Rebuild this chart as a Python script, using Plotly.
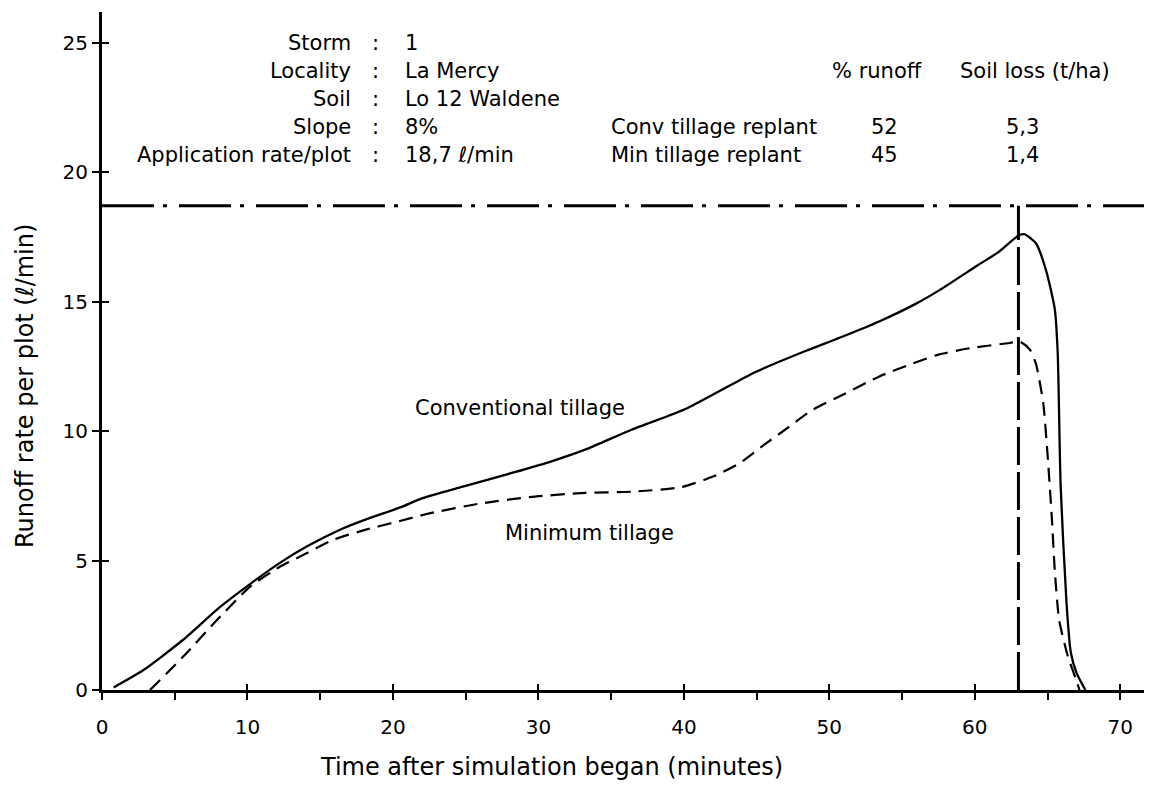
import plotly.graph_objects as go

# ---------------- data ----------------
time_conv = [0.8, 2.8, 5.6, 8.1, 10.2, 12.2, 14.1, 16.4, 18.2, 20.5, 22.0, 24.8, 28.3, 31.0,
             33.3, 36.4, 39.0, 40.3, 43.8, 45.0, 48.4, 50.7, 53.5, 55.9, 57.6, 60.2, 61.6,
             63.0, 63.4, 64.2, 64.9, 65.5, 65.7, 65.9, 66.3, 66.6, 67.0, 67.6]
rate_conv = [0.1, 0.75, 1.95, 3.2, 4.1, 4.9, 5.55, 6.2, 6.6, 7.05, 7.4, 7.85, 8.4, 8.85,
             9.3, 10.05, 10.6, 10.9, 11.95, 12.3, 13.1, 13.6, 14.25, 14.9, 15.45, 16.4, 16.9,
             17.55, 17.6, 17.25, 16.2, 14.7, 13.0, 7.9, 3.4, 1.45, 0.65, 0.0]

time_min = [3.3, 5.6, 7.9, 10.2, 12.2, 13.6, 15.9, 18.2, 20.3, 22.5, 26.0, 29.4, 32.9, 36.5,
            39.8, 42.0, 43.8, 45.6, 47.2, 48.8, 51.1, 53.4, 55.7, 57.5, 59.7, 62.4, 63.1,
            63.8, 64.2, 64.7, 65.0, 65.3, 65.5, 65.8, 66.4, 66.9, 67.2]
rate_min = [0.0, 1.3, 2.7, 4.0, 4.75, 5.15, 5.8, 6.2, 6.5, 6.82, 7.2, 7.45, 7.6, 7.66,
            7.83, 8.24, 8.75, 9.5, 10.15, 10.8, 11.45, 12.1, 12.6, 12.95, 13.2, 13.4, 13.45,
            13.13, 12.6, 11.1, 9.1, 6.6, 4.6, 2.7, 1.3, 0.5, 0.0]

application_rate = 18.7   # l/min
rain_end_time = 63        # minutes

x_tickvals = [0, 10, 20, 30, 40, 50, 60, 70]
y_tickvals = [0, 5, 10, 15, 20, 25]

info_labels = ["Storm", "Locality", "Soil", "Slope", "Application rate/plot"]
info_values = ["1", "La Mercy", "Lo 12 Waldene", "8%", "18,7 \u2113/min"]
treatments = ["Conv tillage replant", "Min tillage replant"]
pct_runoff = ["52", "45"]
soil_loss = ["5,3", "1,4"]

# ---------------- figure ----------------
FONT = "DejaVu Sans"
X_MAX = 71.7
Y_MAX = 26.18

fig = go.Figure()
fig.add_trace(go.Scatter(x=time_conv, y=rate_conv, mode="lines", name="Conventional tillage",
                         line=dict(color="black", width=2.3, shape="spline", smoothing=0.6),
                         showlegend=False))
fig.add_trace(go.Scatter(x=time_min, y=rate_min, mode="lines", name="Minimum tillage",
                         line=dict(color="black", width=2.2, dash="14px,8px", shape="spline", smoothing=0.6),
                         showlegend=False))
# dummy trace to activate overlay axes (crossing ticks)
fig.add_trace(go.Scatter(x=[None], y=[None], xaxis="x2", yaxis="y2", showlegend=False, hoverinfo="skip"))

# application-rate line and end-of-rain line
fig.add_shape(type="line", xref="paper", yref="y", x0=0, x1=1.0075,
              y0=application_rate, y1=application_rate,
              line=dict(color="black", width=3, dash="52px,9px,4px,12px"))
fig.add_shape(type="line", xref="x", yref="y", x0=rain_end_time, x1=rain_end_time,
              y0=0, y1=application_rate,
              line=dict(color="black", width=3, dash="38px,7px"))

tickfont = dict(family=FONT, size=20, color="black")
fig.update_layout(
    width=1144, height=785,
    margin=dict(l=94, r=7, t=4, b=103),
    paper_bgcolor="white", plot_bgcolor="white",
    font=dict(family=FONT, size=21, color="black"),
    xaxis=dict(range=[0, X_MAX], tickvals=x_tickvals, ticks="outside", ticklen=7, tickwidth=2,
               tickcolor="black", showline=True, linewidth=3, linecolor="black",
               showgrid=False, zeroline=False, tickfont=tickfont, ticklabelstandoff=10,
               automargin=False,
               minor=dict(dtick=5, tick0=0, ticks="outside", ticklen=7, tickwidth=2, tickcolor="black")),
    yaxis=dict(range=[0, Y_MAX], tickvals=y_tickvals, ticks="outside", ticklen=7, tickwidth=2,
               tickcolor="black", showline=True, linewidth=3, linecolor="black",
               showgrid=False, zeroline=False, tickfont=tickfont, automargin=False),
    xaxis2=dict(overlaying="x", anchor="y", range=[0, X_MAX], tickvals=x_tickvals[1:],
                ticks="inside", ticklen=6, tickwidth=2, tickcolor="black",
                showticklabels=False, showline=False, showgrid=False, zeroline=False),
    yaxis2=dict(overlaying="y", anchor="x", range=[0, Y_MAX], tickvals=y_tickvals[1:],
                ticks="inside", ticklen=7, tickwidth=2, tickcolor="black",
                showticklabels=False, showline=False, showgrid=False, zeroline=False),
)

def px_x(px):
    return (px - 102) / 1043 * X_MAX

def px_y(py):
    return (690 - py) / 678 * Y_MAX

anns = []
row_y = [43, 71, 99, 127, 155]
for lab, val, ry in zip(info_labels, info_values, row_y):
    anns.append(dict(x=px_x(353), y=px_y(ry), text=lab, xanchor="right", yanchor="middle"))
    anns.append(dict(x=px_x(375), y=px_y(ry), text=":", xanchor="center", yanchor="middle"))
    anns.append(dict(x=px_x(403), y=px_y(ry), text=val, xanchor="left", yanchor="middle"))

anns.append(dict(x=px_x(877), y=px_y(71), text="% runoff", xanchor="center", yanchor="middle"))
anns.append(dict(x=px_x(1035), y=px_y(71), text="Soil loss (t/ha)", xanchor="center", yanchor="middle"))
for t, p, s, ry in zip(treatments, pct_runoff, soil_loss, row_y[3:]):
    anns.append(dict(x=px_x(609), y=px_y(ry), text=t, xanchor="left", yanchor="middle"))
    anns.append(dict(x=px_x(884), y=px_y(ry), text=p, xanchor="center", yanchor="middle"))
    anns.append(dict(x=px_x(1022), y=px_y(ry), text=s, xanchor="center", yanchor="middle"))

anns.append(dict(x=px_x(413), y=px_y(408), text="Conventional tillage", xanchor="left", yanchor="middle"))
anns.append(dict(x=px_x(503), y=px_y(533), text="Minimum tillage", xanchor="left", yanchor="middle"))

for a in anns:
    a["xref"] = "x"
    a["yref"] = "y"
    a["font"] = dict(family=FONT, size=21, color="black")

# axis titles
anns.append(dict(xref="paper", yref="paper", x=(551 - 102) / 1043, y=(690 - 767) / 678,
                 text="Time after simulation began (minutes)", xanchor="center", yanchor="middle",
                 font=dict(family=FONT, size=24, color="black")))
anns.append(dict(xref="paper", yref="paper", x=(25 - 102) / 1043, y=(690 - 386) / 678,
                 text="Runoff rate per plot (\u2113/min)", textangle=-90,
                 xanchor="center", yanchor="middle",
                 font=dict(family=FONT, size=24, color="black")))

for a in anns:
    a["showarrow"] = False
fig.update_layout(annotations=anns)

fig.write_html("out.html")
